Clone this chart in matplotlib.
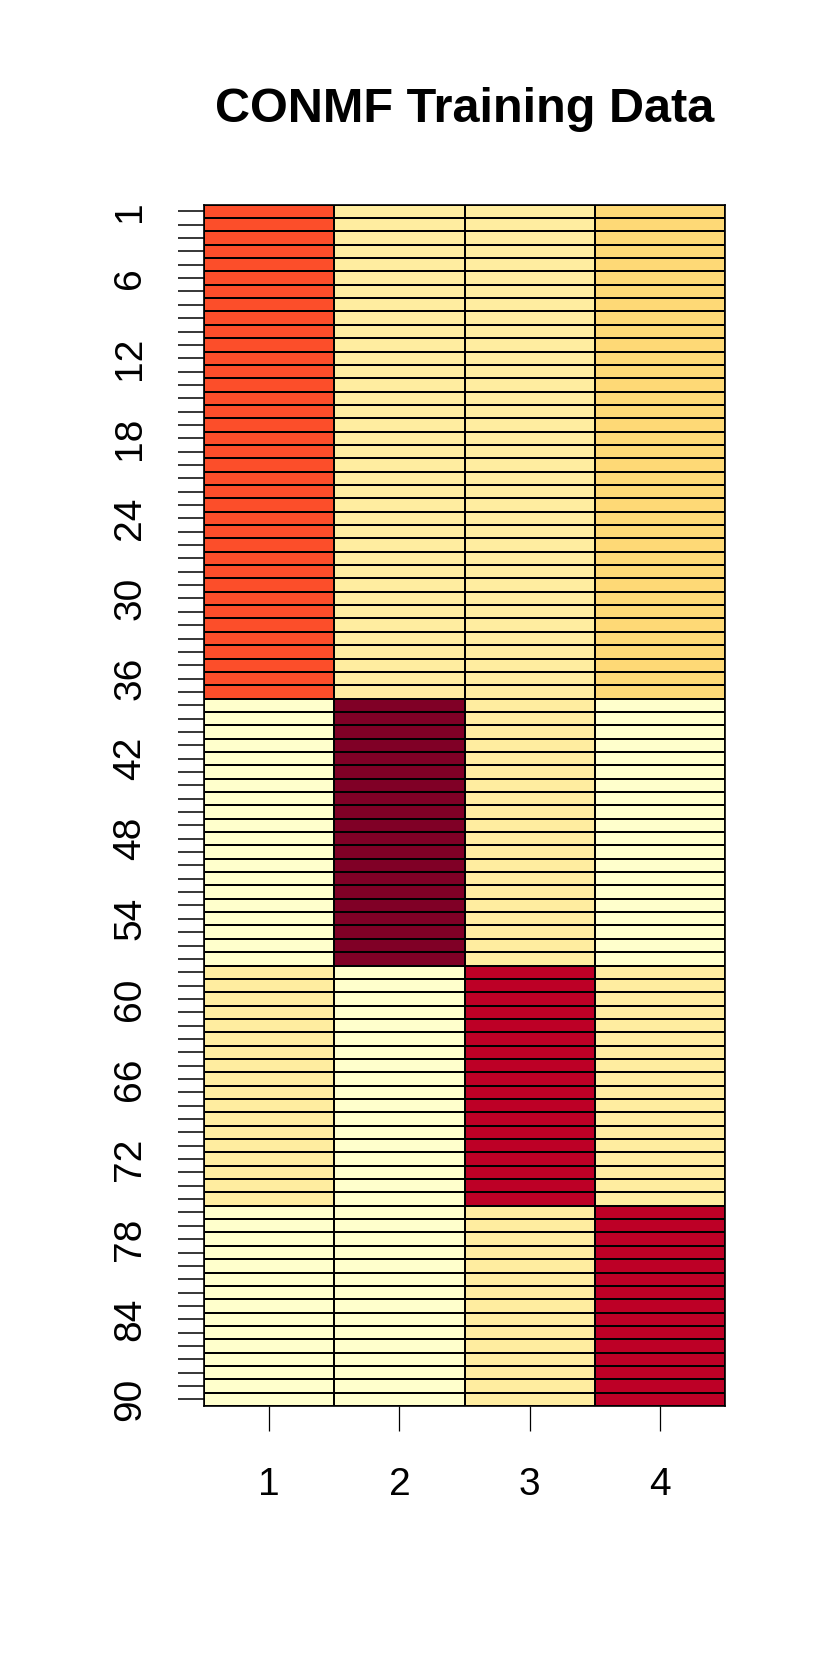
import numpy as np
import matplotlib
matplotlib.use("Agg")
import matplotlib.pyplot as plt
from matplotlib.colors import ListedColormap, BoundaryNorm

# ---- data ----
title = "CONMF Training Data"
palette = ["#FFFFCC", "#FFEDA0", "#FED976", "#FEB24C", "#FD8D3C",
           "#FC4E2A", "#E31A1C", "#BD0026", "#800026"]   # YlOrRd 9
group_sizes = [37, 20, 18, 15]            # rows per block (rows 1..90)
# colour level (index into palette) of each column within each block
col1_levels = [5, 0, 1, 0]
col2_levels = [1, 8, 0, 0]
col3_levels = [1, 1, 7, 1]
col4_levels = [2, 0, 1, 7]
x_labels = ["1", "2", "3", "4"]
y_labels = ["1", "6", "12", "18", "24", "30", "36", "42", "48", "54",
            "60", "66", "72", "78", "84", "90"]

plt.rcParams['font.family'] = ['Liberation Sans', 'DejaVu Sans']

cols = [col1_levels, col2_levels, col3_levels, col4_levels]
mat = np.column_stack([np.repeat(c, group_sizes) for c in cols]).astype(float)
nrows, ncols = mat.shape

fig = plt.figure(figsize=(8.30, 16.61), dpi=100)
ax = fig.add_axes([204/830, 1-1406/1661, (725-204)/830, (1406-204.7)/1661])

cmap = ListedColormap(palette)
norm = BoundaryNorm(np.arange(-0.5, len(palette)+0.5, 1), cmap.N)
xe = np.arange(ncols+1) + 0.5
ye = np.arange(nrows+1) + 0.5
ax.pcolormesh(xe, ye, mat, cmap=cmap, norm=norm, edgecolors='black',
              linewidth=1.2)
ax.set_xlim(0.5, ncols+0.5)
ax.set_ylim(nrows+0.5, 0.5)

for s in ax.spines.values():
    s.set_linewidth(1.2)

ax.set_xticks(np.arange(1, ncols+1))
ax.set_xticklabels(x_labels)
ax.set_yticks(np.arange(1, nrows+1))
ylab_full = [str(i) if str(i) in y_labels else "" for i in range(1, nrows+1)]
ax.set_yticklabels(ylab_full, rotation=90, va='center')
ax.tick_params(axis='x', length=18, width=0.9, pad=26, labelsize=28)
ax.tick_params(axis='y', length=19, width=1.1, pad=21, labelsize=28)

fig.text((204+725)/2/830, 1-122/1661, title, ha='center', va='baseline',
         fontsize=35, fontweight='bold')

fig.savefig("out.png", dpi=100)
